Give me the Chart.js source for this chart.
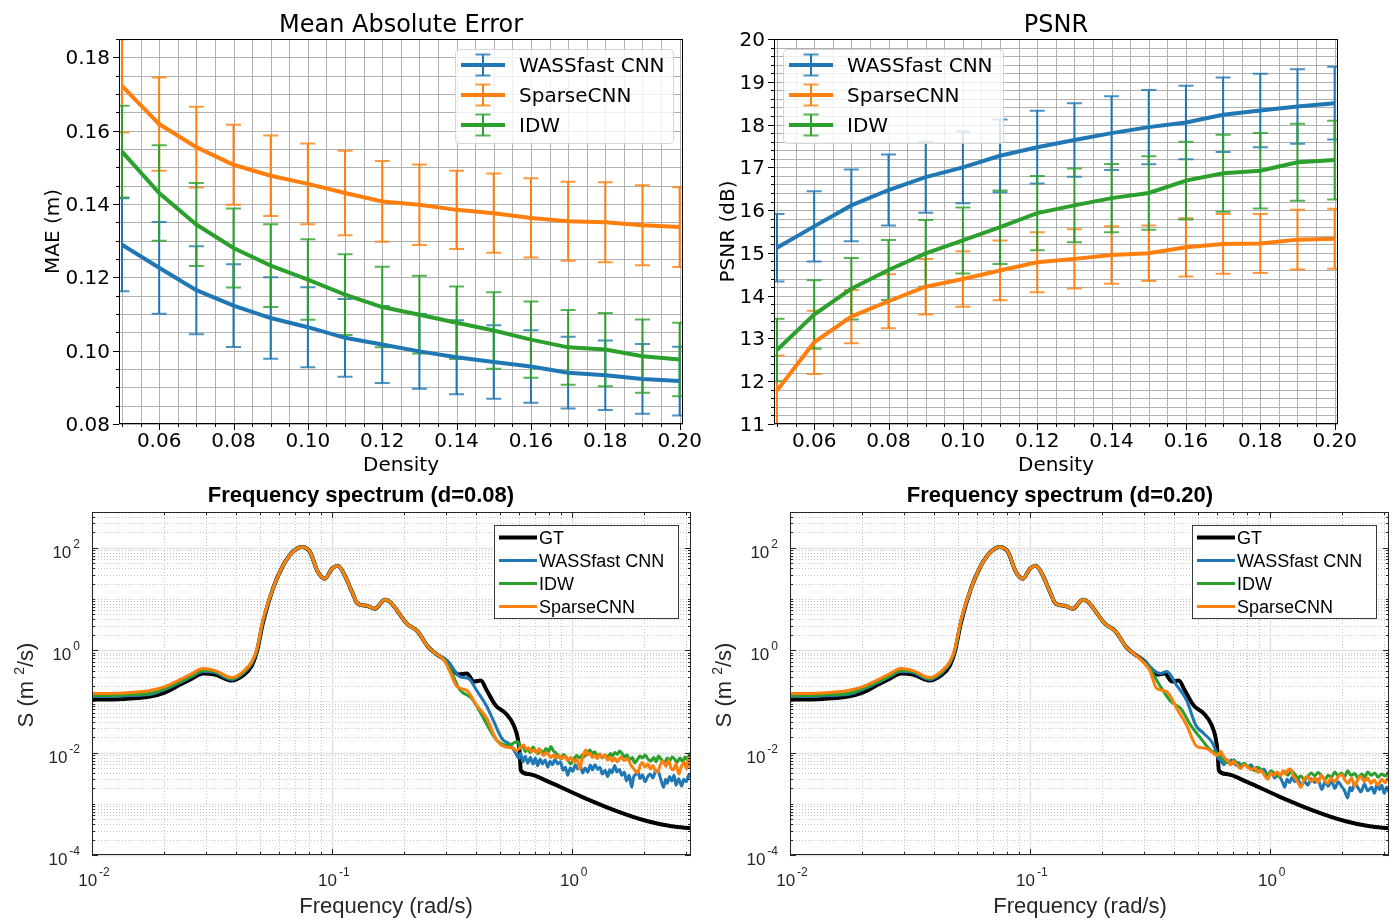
<!DOCTYPE html>
<html>
<head>
<meta charset="utf-8">
<script src="https://cdn.jsdelivr.net/npm/chart.js@4.4.1/dist/chart.umd.min.js"></script>
<style>
  html, body { margin: 0; padding: 0; background: #fff; }
  #page { position: relative; width: 1397px; height: 921px; }
  #page canvas { position: absolute; left: 0; top: 0; }
</style>
</head>
<body>
<div id="page">
  <canvas id="maeChart" width="1397" height="921"></canvas>
  <canvas id="psnrChart" width="1397" height="921"></canvas>
  <canvas id="spec08Chart" width="1397" height="921"></canvas>
  <canvas id="spec20Chart" width="1397" height="921"></canvas>
</div>
<script>
// ---- metrics vs sampling density ----
const density = [0.05, 0.06, 0.07, 0.08, 0.09, 0.10, 0.11, 0.12, 0.13, 0.14, 0.15, 0.16, 0.17, 0.18, 0.19, 0.20];

const maeWass = [0.1289, 0.1226, 0.1165, 0.1123, 0.1089, 0.1064, 0.1035, 0.1017, 0.0998, 0.0982, 0.0969, 0.0957, 0.0940, 0.0933, 0.0923, 0.0917];
const maeWassStd = [0.0127, 0.0125, 0.0120, 0.0113, 0.0111, 0.0109, 0.0106, 0.0105, 0.0102, 0.0101, 0.0100, 0.0099, 0.0098, 0.0095, 0.0095, 0.0094];
const maeSparse = [0.1722, 0.1618, 0.1555, 0.1507, 0.1477, 0.1455, 0.1430, 0.1407, 0.1398, 0.1384, 0.1375, 0.1362, 0.1353, 0.1350, 0.1342, 0.1337];
const maeSparseStd = [0.0127, 0.0127, 0.0110, 0.0109, 0.0110, 0.0110, 0.0115, 0.0110, 0.0110, 0.0107, 0.0108, 0.0108, 0.0108, 0.0109, 0.0109, 0.0109];
const maeIdw = [0.1543, 0.1430, 0.1344, 0.1280, 0.1232, 0.1194, 0.1153, 0.1119, 0.1098, 0.1076, 0.1055, 0.1030, 0.1009, 0.1003, 0.0985, 0.0976];
const maeIdwStd = [0.0125, 0.0130, 0.0113, 0.0108, 0.0113, 0.0110, 0.0110, 0.0110, 0.0106, 0.0099, 0.0104, 0.0104, 0.0102, 0.0100, 0.0100, 0.0100];

const psnrWass = [15.12, 15.62, 16.11, 16.47, 16.77, 17.00, 17.27, 17.47, 17.64, 17.80, 17.94, 18.05, 18.23, 18.33, 18.42, 18.50];
const psnrWassStd = [0.79, 0.82, 0.84, 0.83, 0.83, 0.84, 0.85, 0.85, 0.86, 0.86, 0.87, 0.86, 0.87, 0.86, 0.87, 0.85];
const psnrSparse = [11.78, 12.91, 13.51, 13.87, 14.21, 14.39, 14.59, 14.78, 14.86, 14.95, 14.99, 15.13, 15.21, 15.22, 15.31, 15.33];
const psnrSparseStd = [0.82, 0.74, 0.62, 0.63, 0.65, 0.65, 0.70, 0.70, 0.69, 0.67, 0.65, 0.68, 0.70, 0.69, 0.70, 0.70];
const psnrIdw = [12.73, 13.56, 14.16, 14.60, 14.99, 15.29, 15.60, 15.93, 16.11, 16.28, 16.40, 16.69, 16.86, 16.92, 17.12, 17.17];
const psnrIdwStd = [0.73, 0.80, 0.72, 0.70, 0.78, 0.77, 0.86, 0.87, 0.86, 0.80, 0.86, 0.91, 0.90, 0.88, 0.90, 0.92];

const densityTicks = [0.06, 0.08, 0.10, 0.12, 0.14, 0.16, 0.18, 0.20];
const maeTicks = [0.08, 0.10, 0.12, 0.14, 0.16, 0.18];
const psnrTicks = [11, 12, 13, 14, 15, 16, 17, 18, 19, 20];

// ---- spectra, [frequency rad/s, S m^2/s] ----
const gtLow = [[0.01, 0.109], [0.0119, 0.109], [0.0144, 0.114], [0.01745, 0.125], [0.0201, 0.149], [0.0233, 0.213], [0.0261, 0.279], [0.029, 0.350], [0.0326, 0.334], [0.0383, 0.255], [0.0426, 0.320], [0.0464, 0.501], [0.0487, 0.939], [0.0516, 3.45]];
const wassLow = [[0.01, 0.125], [0.0119, 0.125], [0.0144, 0.130], [0.01745, 0.136], [0.0201, 0.170], [0.0233, 0.233], [0.0261, 0.306], [0.029, 0.383], [0.0326, 0.366], [0.0383, 0.267], [0.0426, 0.350], [0.0464, 0.548], [0.0487, 0.98], [0.0516, 3.6]];
const idwLow = [[0.01, 0.130], [0.0119, 0.130], [0.0144, 0.136], [0.01745, 0.143], [0.0201, 0.178], [0.0233, 0.244], [0.0261, 0.320], [0.029, 0.400], [0.0326, 0.383], [0.0383, 0.279], [0.0426, 0.366], [0.0464, 0.573], [0.0487, 1.03], [0.0516, 3.77]];
const sparseLow = [[0.01, 0.143], [0.0119, 0.143], [0.0144, 0.149], [0.01745, 0.163], [0.0201, 0.195], [0.0233, 0.267], [0.0261, 0.350], [0.029, 0.438], [0.0326, 0.400], [0.0383, 0.292], [0.0426, 0.383], [0.0464, 0.600], [0.0487, 1.074], [0.0516, 3.9]];

// swell peak region, shared by every curve
const peakShape = [[0.0568, 15.9], [0.0625, 44.6], [0.0688, 83.5], [0.0750, 104], [0.0810, 83.5], [0.0874, 34.0], [0.0935, 24.9], [0.1, 39.0], [0.1059, 44.6], [0.1133, 28.5], [0.1212, 13.9], [0.1283, 8.09], [0.1399, 7.40], [0.1510, 6.47], [0.1663, 9.68], [0.1745, 8.86], [0.1884, 5.65], [0.2054, 3.30], [0.2281, 2.31], [0.2512, 1.175], [0.2710, 0.859]];

const gtTail = [[0.3013, 0.60], [0.338, 0.334], [0.3652, 0.350], [0.3908, 0.244], [0.4178, 0.255], [0.4426, 0.163], [0.482, 0.0832], [0.531, 0.0581], [0.5735, 0.0339], [0.5957, 0.0189], [0.6072, 0.0095], [0.6130, 0.0045], [0.660, 0.0038], [0.7943, 0.00275], [1.090, 0.00140], [1.510, 0.000747], [2.074, 0.000456], [2.61, 0.000364], [3.1416, 0.000333]];

const wassTail08 = [[0.3033, 0.626], [0.3413, 0.306], [0.372, 0.279], [0.4018, 0.163], [0.4426, 0.0796], [0.4732, 0.0405], [0.5108, 0.0189], [0.5571, 0.0138], [0.5848, 0.0096],
  [0.600, 0.0078], [0.612, 0.0098], [0.625, 0.0066], [0.640, 0.0085], [0.655, 0.0062], [0.672, 0.0080], [0.690, 0.0060], [0.705, 0.0078], [0.720, 0.0055], [0.738, 0.0075],
  [0.755, 0.0060], [0.775, 0.0072], [0.794, 0.0052], [0.812, 0.0068], [0.830, 0.0058], [0.852, 0.0074], [0.874, 0.0060], [0.897, 0.0066], [0.920, 0.0045], [0.941, 0.0052],
  [0.962, 0.0036], [0.985, 0.0050], [1.010, 0.0043], [1.035, 0.0058], [1.059, 0.0048], [1.085, 0.0056], [1.110, 0.0040], [1.138, 0.0050], [1.166, 0.0041], [1.195, 0.0057],
  [1.220, 0.0046], [1.250, 0.0058], [1.283, 0.0047], [1.310, 0.0052], [1.340, 0.0038], [1.375, 0.0045], [1.413, 0.0034], [1.440, 0.0046], [1.470, 0.0040], [1.510, 0.0056],
  [1.540, 0.0042], [1.580, 0.0047], [1.616, 0.0036], [1.655, 0.0042], [1.690, 0.0028], [1.735, 0.0036], [1.778, 0.0021], [1.810, 0.0033], [1.850, 0.0038], [1.884, 0.0044],
  [1.925, 0.0031], [1.970, 0.0037], [2.020, 0.0027], [2.074, 0.0034], [2.125, 0.0038], [2.180, 0.0032], [2.240, 0.0044], [2.304, 0.0041], [2.360, 0.0028], [2.416, 0.0021],
  [2.460, 0.0030], [2.500, 0.0025], [2.560, 0.0034], [2.610, 0.0028], [2.670, 0.0036], [2.720, 0.0023], [2.790, 0.0031], [2.872, 0.0022], [2.930, 0.0030], [3.000, 0.0027],
  [3.070, 0.0036], [3.1416, 0.0032]];
const idwTail08 = [[0.2950, 0.64], [0.3103, 0.438], [0.3413, 0.170], [0.383, 0.114], [0.4178, 0.0581], [0.4597, 0.0259], [0.487, 0.0173], [0.5412, 0.0138], [0.5957, 0.0165],
  [0.610, 0.0122], [0.625, 0.0136], [0.640, 0.0105], [0.656, 0.0118], [0.672, 0.0100], [0.690, 0.0128], [0.705, 0.0108], [0.722, 0.0096], [0.740, 0.0112], [0.760, 0.0098],
  [0.780, 0.0120], [0.800, 0.0105], [0.818, 0.0132], [0.838, 0.0108], [0.860, 0.0098], [0.880, 0.0084], [0.900, 0.0077], [0.925, 0.0092], [0.950, 0.0080], [0.970, 0.0068],
  [0.991, 0.0060], [1.020, 0.0075], [1.050, 0.0088], [1.080, 0.0078], [1.110, 0.0092], [1.133, 0.0084], [1.160, 0.0100], [1.190, 0.0112], [1.220, 0.0095], [1.247, 0.0104],
  [1.280, 0.0086], [1.310, 0.0094], [1.340, 0.0078], [1.375, 0.0090], [1.413, 0.0082], [1.450, 0.0096], [1.480, 0.0086], [1.510, 0.0100], [1.550, 0.0092], [1.580, 0.0108],
  [1.616, 0.0098], [1.660, 0.0082], [1.700, 0.0090], [1.740, 0.0072], [1.790, 0.0080], [1.830, 0.0063], [1.880, 0.0074], [1.925, 0.0086], [1.970, 0.0078], [2.020, 0.0090],
  [2.074, 0.0076], [2.130, 0.0068], [2.200, 0.0080], [2.250, 0.0066], [2.300, 0.0086], [2.370, 0.0072], [2.441, 0.0064], [2.500, 0.0078], [2.560, 0.0070], [2.620, 0.0082],
  [2.687, 0.0074], [2.750, 0.0064], [2.820, 0.0078], [2.900, 0.0068], [2.970, 0.0082], [3.040, 0.0072], [3.100, 0.0095], [3.1416, 0.0082]];
const sparseTail08 = [[0.2950, 0.62], [0.3103, 0.383], [0.332, 0.195], [0.3652, 0.163], [0.4018, 0.0832], [0.4426, 0.0464], [0.482, 0.0189], [0.521, 0.0132], [0.5735, 0.0121],
  [0.588, 0.0108], [0.600, 0.0118], [0.615, 0.0128], [0.631, 0.0140], [0.645, 0.0118], [0.660, 0.0125], [0.678, 0.0104], [0.695, 0.0114], [0.712, 0.0100], [0.730, 0.0120],
  [0.748, 0.0096], [0.764, 0.0088], [0.782, 0.0100], [0.800, 0.0092], [0.820, 0.0080], [0.841, 0.0090], [0.862, 0.0078], [0.885, 0.0090], [0.910, 0.0076], [0.935, 0.0084],
  [0.962, 0.0070], [0.990, 0.0080], [1.020, 0.0066], [1.050, 0.0074], [1.080, 0.0048], [1.100, 0.0068], [1.122, 0.0095], [1.144, 0.0112], [1.165, 0.0090], [1.190, 0.0098],
  [1.220, 0.0080], [1.247, 0.0088], [1.280, 0.0076], [1.310, 0.0094], [1.340, 0.0080], [1.372, 0.0090], [1.410, 0.0072], [1.440, 0.0082], [1.475, 0.0068], [1.510, 0.0078],
  [1.550, 0.0066], [1.600, 0.0082], [1.650, 0.0070], [1.711, 0.0076], [1.760, 0.0058], [1.800, 0.0050], [1.840, 0.0044], [1.884, 0.0040], [1.930, 0.0056], [1.970, 0.0064],
  [2.020, 0.0052], [2.074, 0.0060], [2.130, 0.0048], [2.180, 0.0056], [2.230, 0.0044], [2.281, 0.0042], [2.340, 0.0058], [2.400, 0.0068], [2.470, 0.0054], [2.535, 0.0070],
  [2.590, 0.0050], [2.650, 0.0046], [2.720, 0.0060], [2.792, 0.0038], [2.860, 0.0052], [2.950, 0.0064], [3.010, 0.0048], [3.073, 0.0078], [3.110, 0.0052], [3.1416, 0.0062]];

const wassTail20 = [[0.3013, 0.60], [0.3481, 0.350], [0.372, 0.383], [0.4098, 0.204], [0.4508, 0.104], [0.4922, 0.0339], [0.531, 0.0237], [0.5788, 0.0151],
  [0.595, 0.0110], [0.6072, 0.0080], [0.625, 0.0070], [0.6427, 0.0058], [0.660, 0.0068], [0.675, 0.0062], [0.692, 0.0072], [0.7079, 0.0064], [0.725, 0.0056], [0.742, 0.0064],
  [0.760, 0.0055], [0.785, 0.0060], [0.8091, 0.0052], [0.835, 0.0058], [0.860, 0.0048], [0.888, 0.0052], [0.9173, 0.0043], [0.945, 0.0048], [0.980, 0.0036], [1.015, 0.0042],
  [1.049, 0.0032], [1.075, 0.0040], [1.100, 0.0034], [1.128, 0.0027], [1.155, 0.0021], [1.180, 0.0030], [1.210, 0.0026], [1.240, 0.0033], [1.271, 0.0027], [1.310, 0.0031],
  [1.350, 0.0022], [1.395, 0.0028], [1.439, 0.0023], [1.490, 0.0031], [1.540, 0.0026], [1.590, 0.0030], [1.648, 0.0019], [1.700, 0.0027], [1.750, 0.0022], [1.810, 0.0028],
  [1.866, 0.0020], [1.930, 0.0027], [1.990, 0.0022], [2.050, 0.0018], [2.113, 0.0013], [2.160, 0.0021], [2.200, 0.0018], [2.260, 0.0025], [2.327, 0.0021], [2.400, 0.0017],
  [2.480, 0.0024], [2.560, 0.0018], [2.661, 0.0021], [2.730, 0.0016], [2.800, 0.0024], [2.870, 0.0019], [2.931, 0.0023], [3.000, 0.0016], [3.070, 0.0021], [3.1416, 0.0017]];
const idwTail20 = [[0.2950, 0.62], [0.3162, 0.438], [0.3481, 0.204], [0.3870, 0.0995], [0.4256, 0.0727], [0.4688, 0.0339], [0.5158, 0.0189], [0.5675, 0.0110], [0.6072, 0.0096],
  [0.625, 0.0082], [0.640, 0.0074], [0.655, 0.0064], [0.6683, 0.0070], [0.690, 0.0060], [0.710, 0.0072], [0.732, 0.0060], [0.7568, 0.0056], [0.782, 0.0062], [0.810, 0.0054],
  [0.838, 0.0050], [0.866, 0.0044], [0.893, 0.0052], [0.920, 0.0046], [0.950, 0.0040], [0.981, 0.0035], [1.010, 0.0044], [1.040, 0.0040], [1.075, 0.0034], [1.111, 0.0037],
  [1.150, 0.0043], [1.190, 0.0036], [1.230, 0.0044], [1.271, 0.0038], [1.310, 0.0032], [1.350, 0.0035], [1.395, 0.0029], [1.439, 0.0034], [1.490, 0.0040], [1.540, 0.0035],
  [1.590, 0.0041], [1.648, 0.0035], [1.700, 0.0030], [1.750, 0.0036], [1.810, 0.0033], [1.866, 0.0042], [1.930, 0.0035], [1.990, 0.0040], [2.050, 0.0034], [2.113, 0.0044],
  [2.180, 0.0036], [2.260, 0.0039], [2.330, 0.0032], [2.416, 0.0038], [2.490, 0.0033], [2.560, 0.0042], [2.650, 0.0036], [2.738, 0.0040], [2.830, 0.0033], [2.930, 0.0038],
  [3.030, 0.0035], [3.1416, 0.0044]];
const sparseTail20 = [[0.2950, 0.60], [0.3162, 0.40], [0.338, 0.178], [0.372, 0.156], [0.4098, 0.0727], [0.4508, 0.0339], [0.4966, 0.0132], [0.5412, 0.0121], [0.5848, 0.0096],
  [0.605, 0.0088], [0.6252, 0.0105], [0.640, 0.0086], [0.655, 0.0075], [0.672, 0.0068], [0.6879, 0.0057], [0.705, 0.0068], [0.720, 0.0062], [0.738, 0.0054], [0.7568, 0.0049],
  [0.782, 0.0058], [0.810, 0.0052], [0.838, 0.0046], [0.866, 0.0050], [0.893, 0.0041], [0.920, 0.0045], [0.950, 0.0036], [0.981, 0.0030], [1.010, 0.0040], [1.040, 0.0036],
  [1.075, 0.0042], [1.111, 0.0035], [1.135, 0.0044], [1.160, 0.0038], [1.190, 0.0046], [1.223, 0.0048], [1.250, 0.0036], [1.280, 0.0031], [1.310, 0.0026], [1.346, 0.0021],
  [1.390, 0.0030], [1.440, 0.0034], [1.490, 0.0027], [1.540, 0.0032], [1.590, 0.0026], [1.640, 0.0036], [1.690, 0.0029], [1.745, 0.0025], [1.800, 0.0032], [1.860, 0.0027],
  [1.930, 0.0034], [1.995, 0.0037], [2.060, 0.0029], [2.120, 0.0025], [2.190, 0.0032], [2.260, 0.0022], [2.330, 0.0030], [2.400, 0.0034], [2.480, 0.0027], [2.559, 0.0032],
  [2.640, 0.0025], [2.720, 0.0029], [2.820, 0.0023], [2.931, 0.0030], [3.030, 0.0026], [3.1416, 0.0035]];

const freqTicks = [0.01, 0.1, 1];
const powerTicks = [1e-4, 1e-2, 1, 100];

// ---- drawing helpers ----
const W = 1397, H = 921;
const BLUE = '#1f77b4', ORANGE = '#ff7f0e', GREEN = '#2ca02c';
const MPL_FONT = '"DejaVu Sans", sans-serif';
const ML_FONT = '"Liberation Sans", Arial, sans-serif';
const ML_INK = '#262626';

const crisp = v => Math.round(v) + 0.5;

function steps(start, end, step) {
  const out = [];
  const n = Math.round((end - start) / step);
  for (let k = 0; k <= n; k++) out.push(+(start + k * step).toFixed(6));
  return out;
}

function isOn(v, list) {
  return list.some(t => Math.abs(t - v) < 1e-7 * Math.max(1, Math.abs(t)));
}

// matplotlib-looking frame: grid, error bars, spines, ticks, legend
const mplAxes = {
  id: 'mplAxes',
  beforeDatasetsDraw(chart, args, o) {
    const { ctx, chartArea: a, scales: { x, y } } = chart;
    ctx.save();
    ctx.strokeStyle = '#b0b0b0';
    ctx.lineWidth = 1;
    ctx.beginPath();
    steps(o.xGrid[0], o.xGrid[1], o.xGrid[2]).forEach(v => {
      const px = crisp(x.getPixelForValue(v));
      ctx.moveTo(px, a.top); ctx.lineTo(px, a.bottom);
    });
    steps(o.yGrid[0], o.yGrid[1], o.yGrid[2]).forEach(v => {
      const py = crisp(y.getPixelForValue(v));
      ctx.moveTo(a.left, py); ctx.lineTo(a.right, py);
    });
    ctx.stroke();

    // error bars sit under all of the mean lines
    ctx.beginPath();
    ctx.rect(a.left, a.top, a.width, a.height);
    ctx.clip();
    chart.data.datasets.forEach(ds => {
      ctx.strokeStyle = ds.borderColor;
      ds.data.forEach((p, i) => {
        const px = x.getPixelForValue(p.x);
        const hi = y.getPixelForValue(p.y + ds.errors[i]);
        const lo = y.getPixelForValue(p.y - ds.errors[i]);
        ctx.globalAlpha = 1;
        ctx.lineWidth = 2;
        ctx.beginPath(); ctx.moveTo(px, hi); ctx.lineTo(px, lo); ctx.stroke();
        ctx.globalAlpha = 0.8;
        ctx.beginPath();
        ctx.moveTo(px - 7.5, hi); ctx.lineTo(px + 7.5, hi);
        ctx.moveTo(px - 7.5, lo); ctx.lineTo(px + 7.5, lo);
        ctx.stroke();
      });
    });
    ctx.restore();
  },
  afterDatasetsDraw(chart, args, o) {
    const { ctx, chartArea: a, scales: { x, y } } = chart;
    ctx.save();
    // spines
    ctx.strokeStyle = '#000';
    ctx.lineWidth = 1;
    ctx.strokeRect(Math.round(a.left) + 0.5, Math.round(a.top) + 0.5, Math.round(a.width) - 1, Math.round(a.height) - 1);

    // ticks
    ctx.beginPath();
    steps(o.xGrid[0], o.xGrid[1], o.xGrid[2]).forEach(v => {
      const px = crisp(x.getPixelForValue(v));
      const len = isOn(v, o.xTicks) ? 6 : 3;
      ctx.moveTo(px, a.bottom); ctx.lineTo(px, a.bottom + len);
    });
    steps(o.yGrid[0], o.yGrid[1], o.yGrid[2]).forEach(v => {
      const py = crisp(y.getPixelForValue(v));
      const len = isOn(v, o.yTicks) ? 6 : 3;
      ctx.moveTo(a.left - len, py); ctx.lineTo(a.left, py);
    });
    ctx.stroke();

    ctx.fillStyle = '#000';
    ctx.font = '20px ' + MPL_FONT;
    ctx.textBaseline = 'alphabetic';
    ctx.textAlign = 'center';
    o.xTicks.forEach(v => ctx.fillText(v.toFixed(2), x.getPixelForValue(v), a.bottom + 23));
    ctx.textAlign = 'right';
    o.yTicks.forEach(v => ctx.fillText(v.toFixed(o.yDigits), a.left - 9, y.getPixelForValue(v) + 7));

    // titles
    ctx.textAlign = 'center';
    ctx.fillText(o.xLabel, (a.left + a.right) / 2, a.bottom + 47);
    ctx.save();
    ctx.translate(o.yLabelX, (a.top + a.bottom) / 2);
    ctx.rotate(-Math.PI / 2);
    ctx.fillText(o.yLabel, 0, 7);
    ctx.restore();
    ctx.font = '24px ' + MPL_FONT;
    ctx.fillText(o.title, (a.left + a.right) / 2, a.top - 7);

    // legend
    const lg = o.legend;
    ctx.beginPath();
    ctx.roundRect(lg[0] + 0.5, lg[1] + 0.5, lg[2], lg[3], 4);
    ctx.fillStyle = 'rgba(255,255,255,0.8)';
    ctx.fill();
    ctx.strokeStyle = 'rgba(204,204,204,0.8)';
    ctx.stroke();
    ctx.font = '20px ' + MPL_FONT;
    ctx.textAlign = 'left';
    chart.data.datasets.forEach((ds, i) => {
      const cy = lg[1] + 16 + i * 30;
      const cx = lg[0] + 28;
      ctx.strokeStyle = ds.borderColor;
      ctx.lineWidth = 4;
      ctx.beginPath(); ctx.moveTo(lg[0] + 6, cy); ctx.lineTo(lg[0] + 50, cy); ctx.stroke();
      ctx.lineWidth = 2;
      ctx.beginPath(); ctx.moveTo(cx, cy - 10.5); ctx.lineTo(cx, cy + 10.5); ctx.stroke();
      ctx.globalAlpha = 0.8;
      ctx.beginPath();
      ctx.moveTo(cx - 7.5, cy - 10.5); ctx.lineTo(cx + 7.5, cy - 10.5);
      ctx.moveTo(cx - 7.5, cy + 10.5); ctx.lineTo(cx + 7.5, cy + 10.5);
      ctx.stroke();
      ctx.globalAlpha = 1;
      ctx.fillStyle = '#000';
      ctx.fillText(ds.label, lg[0] + 64, cy + 7);
    });
    ctx.restore();
  }
};

function logMarks(min, max) {
  const out = [];
  for (let e = Math.floor(Math.log10(min)); e <= Math.ceil(Math.log10(max)); e++) {
    for (let m = 1; m <= 9; m++) {
      const v = m * Math.pow(10, e);
      if (v >= min * 0.999 && v <= max * 1.001) out.push(v);
    }
  }
  return out;
}

// "10" with a raised exponent, anchored at x (center or right)
function powerLabel(ctx, v, x, base, align) {
  const exp = String(Math.round(Math.log10(v)));
  ctx.font = '17px ' + ML_FONT;
  const w1 = ctx.measureText('10').width;
  ctx.font = '12px ' + ML_FONT;
  const w2 = ctx.measureText(exp).width;
  const total = w1 + 2 + w2;
  const x0 = align === 'right' ? x - total : x - total / 2;
  ctx.textAlign = 'left';
  ctx.font = '17px ' + ML_FONT;
  ctx.fillText('10', x0, base);
  ctx.font = '12px ' + ML_FONT;
  ctx.fillText(exp, x0 + w1 + 2, base - 10);
}

// MATLAB-looking log-log frame
const matlabAxes = {
  id: 'matlabAxes',
  beforeDatasetsDraw(chart, args, o) {
    const { ctx, chartArea: a, scales: { x, y } } = chart;
    ctx.save();
    const xm = logMarks(x.min, x.max);
    const ym = logMarks(y.min, y.max);
    // minor dotted grid
    ctx.strokeStyle = '#c6c6c6';
    ctx.lineWidth = 1;
    ctx.setLineDash([1, 2]);
    ctx.beginPath();
    xm.filter(v => !isOn(v, o.xMajor)).forEach(v => {
      const px = crisp(x.getPixelForValue(v));
      ctx.moveTo(px, a.top); ctx.lineTo(px, a.bottom);
    });
    ym.filter(v => !isOn(v, o.yTicks)).forEach(v => {
      const py = crisp(y.getPixelForValue(v));
      ctx.moveTo(a.left, py); ctx.lineTo(a.right, py);
    });
    ctx.stroke();
    // major solid grid
    ctx.setLineDash([]);
    ctx.strokeStyle = '#e2e2e2';
    ctx.lineWidth = 1.5;
    ctx.beginPath();
    o.xMajor.forEach(v => {
      const px = crisp(x.getPixelForValue(v));
      ctx.moveTo(px, a.top); ctx.lineTo(px, a.bottom);
    });
    o.yTicks.forEach(v => {
      const py = crisp(y.getPixelForValue(v));
      ctx.moveTo(a.left, py); ctx.lineTo(a.right, py);
    });
    ctx.stroke();
    ctx.restore();
  },
  afterDatasetsDraw(chart, args, o) {
    const { ctx, chartArea: a, scales: { x, y } } = chart;
    ctx.save();
    ctx.strokeStyle = ML_INK;
    ctx.lineWidth = 1;
    ctx.strokeRect(Math.round(a.left) + 0.5, Math.round(a.top) + 0.5, Math.round(a.width) - 1, Math.round(a.height) - 1);

    // inward ticks on all four sides
    ctx.beginPath();
    logMarks(x.min, x.max).forEach(v => {
      const px = crisp(x.getPixelForValue(v));
      const len = isOn(v, o.xTicks) ? 6 : 3;
      ctx.moveTo(px, a.bottom); ctx.lineTo(px, a.bottom - len);
      ctx.moveTo(px, a.top); ctx.lineTo(px, a.top + len);
    });
    logMarks(y.min, y.max).forEach(v => {
      const py = crisp(y.getPixelForValue(v));
      const len = isOn(v, o.yTicks) ? 6 : 3;
      ctx.moveTo(a.left, py); ctx.lineTo(a.left + len, py);
      ctx.moveTo(a.right, py); ctx.lineTo(a.right - len, py);
    });
    ctx.stroke();

    ctx.fillStyle = ML_INK;
    ctx.textBaseline = 'alphabetic';
    o.xTicks.forEach(v => powerLabel(ctx, v, x.getPixelForValue(v) + 2, a.bottom + 31, 'center'));
    o.yTicks.forEach(v => powerLabel(ctx, v, a.left - 12, y.getPixelForValue(v) + 10, 'right'));

    // axis labels
    ctx.font = '22px ' + ML_FONT;
    ctx.textAlign = 'center';
    ctx.fillText('Frequency (rad/s)', o.xLabelX, a.bottom + 58);
    ctx.save();
    ctx.translate(o.yLabelX, 685);
    ctx.rotate(-Math.PI / 2);
    const parts = [['S (m ', 22, 0], ['2', 14, 9], ['/s)', 22, 0]];
    let total = 0;
    parts.forEach(p => { ctx.font = p[1] + 'px ' + ML_FONT; total += ctx.measureText(p[0]).width; });
    let cx = -total / 2;
    ctx.textAlign = 'left';
    parts.forEach(p => {
      ctx.font = p[1] + 'px ' + ML_FONT;
      ctx.fillText(p[0], cx, 8 - p[2]);
      cx += ctx.measureText(p[0]).width;
    });
    ctx.restore();

    // title
    ctx.fillStyle = '#000';
    ctx.font = 'bold 22px ' + ML_FONT;
    ctx.textAlign = 'center';
    ctx.fillText(o.title, o.titleX, a.top - 10);

    // legend
    const lg = [a.left + 402, 525, 184, 93];
    ctx.fillStyle = '#fff';
    ctx.fillRect(lg[0], lg[1], lg[2], lg[3]);
    ctx.strokeStyle = '#3a3a3a';
    ctx.lineWidth = 1;
    ctx.strokeRect(lg[0] + 0.5, lg[1] + 0.5, lg[2], lg[3]);
    ctx.font = '18px ' + ML_FONT;
    ctx.textAlign = 'left';
    chart.data.datasets.forEach((ds, i) => {
      const cy = lg[1] + 12.5 + i * 23;
      ctx.strokeStyle = ds.borderColor;
      ctx.lineWidth = ds.borderWidth;
      ctx.beginPath(); ctx.moveTo(lg[0] + 5, cy); ctx.lineTo(lg[0] + 43, cy); ctx.stroke();
      ctx.fillStyle = '#000';
      ctx.fillText(ds.label, lg[0] + 45, cy + 6.5);
    });
    ctx.restore();
  }
};

function pad(box) {
  return { left: box[0], top: box[1], right: W - box[2], bottom: H - box[3] };
}

function errorChart(id, box, yRange, series, frame) {
  new Chart(document.getElementById(id), {
    type: 'line',
    data: {
      datasets: series.map(s => ({
        label: s.label,
        data: density.map((d, i) => ({ x: d, y: s.mean[i] })),
        errors: s.std,
        borderColor: s.color,
        backgroundColor: s.color,
        borderWidth: 4,
        pointRadius: 0,
        tension: 0,
        order: s.order
      }))
    },
    options: {
      responsive: false,
      animation: false,
      devicePixelRatio: 1,
      events: [],
      layout: { padding: pad(box) },
      scales: {
        x: { type: 'linear', display: false, min: 0.0492, max: 0.2009 },
        y: { type: 'linear', display: false, min: yRange[0], max: yRange[1] }
      },
      plugins: { legend: { display: false }, tooltip: { enabled: false }, mplAxes: frame }
    },
    plugins: [mplAxes]
  });
}

errorChart('maeChart', [119, 39, 683, 424], [0.08, 0.185], [
  { label: 'WASSfast CNN', mean: maeWass, std: maeWassStd, color: BLUE, order: 3 },
  { label: 'SparseCNN', mean: maeSparse, std: maeSparseStd, color: ORANGE, order: 2 },
  { label: 'IDW', mean: maeIdw, std: maeIdwStd, color: GREEN, order: 1 }
], {
  title: 'Mean Absolute Error', xLabel: 'Density', yLabel: 'MAE (m)', yLabelX: 52,
  xTicks: densityTicks, yTicks: maeTicks, yDigits: 2,
  xGrid: [0.05, 0.20, 0.005], yGrid: [0.08, 0.185, 0.005],
  legend: [455, 49, 218, 94]
});

errorChart('psnrChart', [774, 39, 1338, 424], [11, 20], [
  { label: 'WASSfast CNN', mean: psnrWass, std: psnrWassStd, color: BLUE, order: 3 },
  { label: 'SparseCNN', mean: psnrSparse, std: psnrSparseStd, color: ORANGE, order: 2 },
  { label: 'IDW', mean: psnrIdw, std: psnrIdwStd, color: GREEN, order: 1 }
], {
  title: 'PSNR', xLabel: 'Density', yLabel: 'PSNR (dB)', yLabelX: 727,
  xTicks: densityTicks, yTicks: psnrTicks, yDigits: 0,
  xGrid: [0.05, 0.20, 0.005], yGrid: [11, 20, 0.2],
  legend: [783, 49, 220, 94]
});

const toXY = pts => pts.map(p => ({ x: p[0], y: p[1] }));

function spectrumChart(id, left, title, titleX, xLabelX, yLabelX, tails) {
  const curves = [
    { label: 'GT', pts: gtLow.concat(peakShape, gtTail), color: '#000', width: 4, order: 4 },
    { label: 'WASSfast CNN', pts: wassLow.concat(peakShape, tails.wass), color: BLUE, width: 3, order: 3 },
    { label: 'IDW', pts: idwLow.concat(peakShape, tails.idw), color: GREEN, width: 3, order: 2 },
    { label: 'SparseCNN', pts: sparseLow.concat(peakShape, tails.sparse), color: ORANGE, width: 3, order: 1 }
  ];
  new Chart(document.getElementById(id), {
    type: 'line',
    data: {
      datasets: curves.map(c => ({
        label: c.label,
        data: toXY(c.pts),
        borderColor: c.color,
        backgroundColor: c.color,
        borderWidth: c.width,
        pointRadius: 0,
        cubicInterpolationMode: 'monotone',
        order: c.order
      }))
    },
    options: {
      responsive: false,
      animation: false,
      devicePixelRatio: 1,
      events: [],
      layout: { padding: pad([left, 512, left + 599, 855]) },
      scales: {
        x: { type: 'logarithmic', display: false, min: 0.01, max: Math.PI },
        y: { type: 'logarithmic', display: false, min: 1e-4, max: 500 }
      },
      plugins: {
        legend: { display: false },
        tooltip: { enabled: false },
        matlabAxes: { title, titleX, xLabelX, yLabelX, xTicks: freqTicks, xMajor: freqTicks, yTicks: powerTicks }
      }
    },
    plugins: [matlabAxes]
  });
}

spectrumChart('spec08Chart', 92, 'Frequency spectrum (d=0.08)', 361, 386, 25,
  { wass: wassTail08, idw: idwTail08, sparse: sparseTail08 });
spectrumChart('spec20Chart', 790, 'Frequency spectrum (d=0.20)', 1060, 1080, 723,
  { wass: wassTail20, idw: idwTail20, sparse: sparseTail20 });
</script>
</body>
</html>
